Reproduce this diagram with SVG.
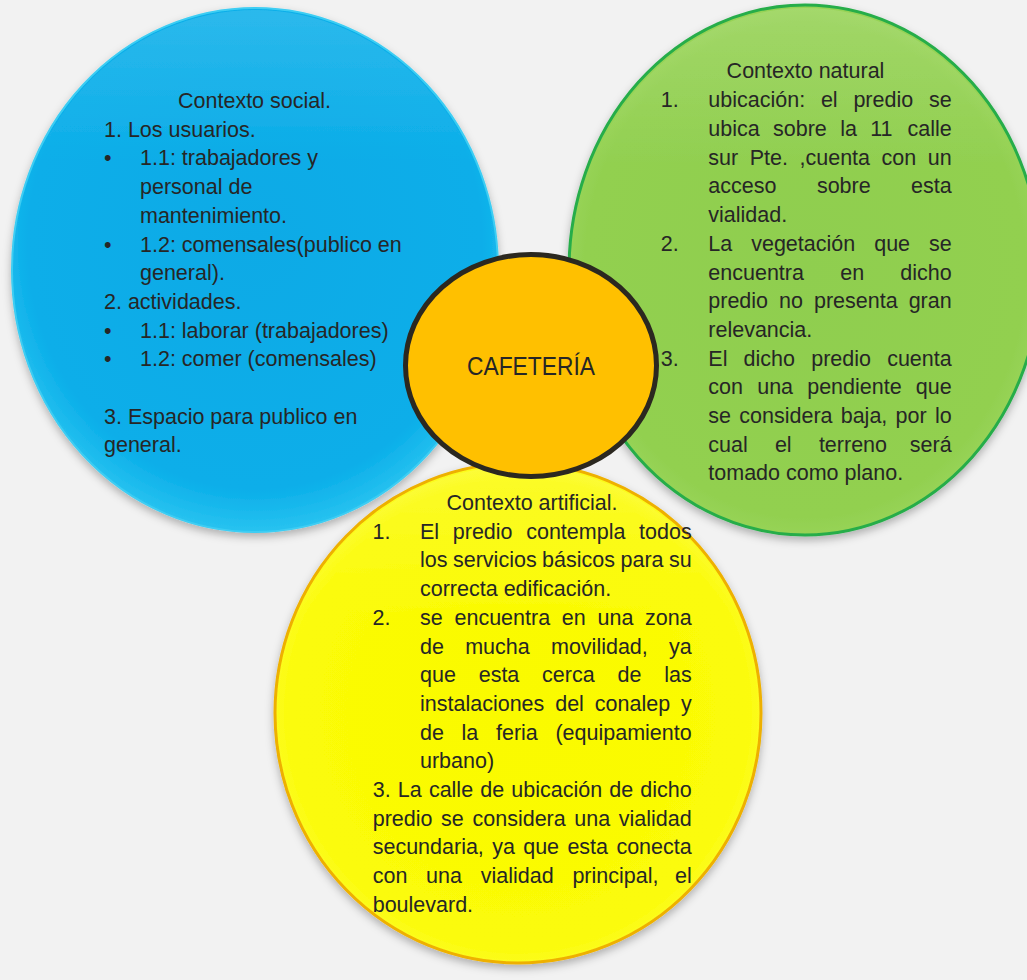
<svg xmlns="http://www.w3.org/2000/svg" width="1027" height="980" viewBox="0 0 1027 980">
<style>
.t{font-family:"Liberation Sans",Arial,sans-serif;font-size:21.5px;fill:#262626}
.c{text-anchor:middle}
.e{text-anchor:end}
.big{font-family:"Liberation Sans",Arial,sans-serif;font-size:25px;fill:#262626;text-anchor:middle}
</style>
<defs>
<filter id="sh" x="-10%" y="-10%" width="120%" height="125%">
<feDropShadow dx="0" dy="4" stdDeviation="4" flood-color="#000" flood-opacity="0.28"/>
</filter>
<radialGradient id="gBlue" cx="50%" cy="45%" r="55%">
<stop offset="0" stop-color="#08aae6"/>
<stop offset="0.85" stop-color="#0aaee9"/>
<stop offset="1" stop-color="#28c3f0"/>
</radialGradient>
<radialGradient id="gGreen" cx="50%" cy="50%" r="55%">
<stop offset="0" stop-color="#8fce4f"/>
<stop offset="0.85" stop-color="#92d050"/>
<stop offset="1" stop-color="#9ed85e"/>
</radialGradient>
<radialGradient id="gYellow" cx="50%" cy="50%" r="55%">
<stop offset="0" stop-color="#fafa00"/>
<stop offset="0.85" stop-color="#fbfb08"/>
<stop offset="1" stop-color="#fdfd40"/>
</radialGradient>
<linearGradient id="hl" x1="0" y1="0" x2="0" y2="1">
<stop offset="0" stop-color="#fff" stop-opacity="0.14"/>
<stop offset="0.3" stop-color="#fff" stop-opacity="0"/>
</linearGradient>
</defs>
<rect width="1027" height="980" fill="#f2f2f2"/>
<g id="connectors"/>
<g id="social" filter="url(#sh)">
<ellipse cx="255" cy="270" rx="243" ry="262" fill="url(#gBlue)" stroke="#3ccdf3" stroke-width="2"/>
<ellipse cx="255" cy="270" rx="241" ry="260" fill="url(#hl)"/>
</g>
<g id="natural" filter="url(#sh)">
<ellipse cx="805" cy="270" rx="236" ry="265" fill="url(#gGreen)" stroke="#26ad4a" stroke-width="3"/>
<ellipse cx="805" cy="270" rx="233" ry="262" fill="url(#hl)"/>
</g>
<g id="artificial" filter="url(#sh)">
<ellipse cx="518" cy="713" rx="243" ry="250" fill="url(#gYellow)" stroke="#eeb000" stroke-width="3"/>
<ellipse cx="518" cy="713" rx="240" ry="247" fill="url(#hl)"/>
</g>
<g id="cafeteria">
<ellipse cx="531" cy="365.5" rx="125.5" ry="111" fill="#ffc000" stroke="#2b2820" stroke-width="5"/>
<text class="big" x="531" y="375" textLength="128" lengthAdjust="spacingAndGlyphs">CAFETERÍA</text>
</g>
<g id="social-text">
<text class="t c" x="254.5" y="108">Contexto social.</text>
<text class="t" x="104" y="136.7">1. Los usuarios.</text>
<text class="t" x="104" y="165.4">•</text><text class="t" x="140" y="165.4">1.1: trabajadores y</text>
<text class="t" x="140" y="194.1">personal de</text>
<text class="t" x="140" y="222.8">mantenimiento.</text>
<text class="t" x="104" y="251.5">•</text><text class="t" x="140" y="251.5">1.2: comensales(publico en</text>
<text class="t" x="140" y="280.2">general).</text>
<text class="t" x="104" y="308.9">2. actividades.</text>
<text class="t" x="104" y="337.6">•</text><text class="t" x="140" y="337.6">1.1: laborar (trabajadores)</text>
<text class="t" x="104" y="366.3">•</text><text class="t" x="140" y="366.3">1.2: comer (comensales)</text>
<text class="t" x="104" y="423.7">3. Espacio para publico en</text>
<text class="t" x="104" y="452.4">general.</text>
</g>
<g id="natural-text">
<text class="t c" x="805.5" y="78.3">Contexto natural</text>
<text class="t" x="660.7" y="107.3">1.</text>
<text class="t" y="107.3"><tspan x="708.3">ubicación:</tspan><tspan x="820.9">el</tspan><tspan x="853.4">predio</tspan><tspan x="951.7" class="e">se</tspan></text>
<text class="t" y="136"><tspan x="708.3">ubica</tspan><tspan x="773">sobre</tspan><tspan x="840.2">la</tspan><tspan x="870.2">11</tspan><tspan x="951.7" class="e">calle</tspan></text>
<text class="t" y="164.7"><tspan x="708.3">sur</tspan><tspan x="749.7">Pte.</tspan><tspan x="799.5">,cuenta</tspan><tspan x="881.6">con</tspan><tspan x="951.7" class="e">un</tspan></text>
<text class="t" y="193.4"><tspan x="708.3">acceso</tspan><tspan x="816.9">sobre</tspan><tspan x="951.7" class="e">esta</tspan></text>
<text class="t" x="708.3" y="222.1">vialidad.</text>
<text class="t" x="660.7" y="250.8">2.</text>
<text class="t" y="250.8"><tspan x="708.3">La</tspan><tspan x="751.2">vegetación</tspan><tspan x="874.2">que</tspan><tspan x="951.7" class="e">se</tspan></text>
<text class="t" y="279.5"><tspan x="708.3">encuentra</tspan><tspan x="840.2">en</tspan><tspan x="951.7" class="e">dicho</tspan></text>
<text class="t" y="308.2"><tspan x="708.3">predio</tspan><tspan x="779.1">no</tspan><tspan x="814">presenta</tspan><tspan x="951.7" class="e">gran</tspan></text>
<text class="t" x="708.3" y="336.9">relevancia.</text>
<text class="t" x="660.7" y="365.6">3.</text>
<text class="t" y="365.6"><tspan x="708.3">El</tspan><tspan x="743.6">dicho</tspan><tspan x="811.2">predio</tspan><tspan x="951.7" class="e">cuenta</tspan></text>
<text class="t" y="394.3"><tspan x="708.3">con</tspan><tspan x="757.2">una</tspan><tspan x="807.2">pendiente</tspan><tspan x="951.7" class="e">que</tspan></text>
<text class="t" y="423"><tspan x="708.3">se</tspan><tspan x="739.3">considera</tspan><tspan x="840.7">baja,</tspan><tspan x="895.6">por</tspan><tspan x="951.7" class="e">lo</tspan></text>
<text class="t" y="451.7"><tspan x="708.3">cual</tspan><tspan x="774.9">el</tspan><tspan x="818.9">terreno</tspan><tspan x="951.7" class="e">será</tspan></text>
<text class="t" x="708.3" y="480.4">tomado como plano.</text>
</g>
<g id="artificial-text">
<text class="t c" x="532" y="510">Contexto artificial.</text>
<text class="t" x="372.5" y="538.7">1.</text>
<text class="t" y="538.7"><tspan x="420">El</tspan><tspan x="452.8">predio</tspan><tspan x="526.2">contempla</tspan><tspan x="691.7" class="e">todos</tspan></text>
<text class="t" y="567.4"><tspan x="420">los</tspan><tspan x="453">servicios</tspan><tspan x="542.1">básicos</tspan><tspan x="620.5">para</tspan><tspan x="691.7" class="e">su</tspan></text>
<text class="t" x="420" y="596.1">correcta edificación.</text>
<text class="t" x="372.5" y="624.8">2.</text>
<text class="t" y="624.8"><tspan x="420">se</tspan><tspan x="454.5">encuentra</tspan><tspan x="561.8">en</tspan><tspan x="597.5">una</tspan><tspan x="691.7" class="e">zona</tspan></text>
<text class="t" y="653.5"><tspan x="420">de</tspan><tspan x="465.2">mucha</tspan><tspan x="551">movilidad,</tspan><tspan x="691.7" class="e">ya</tspan></text>
<text class="t" y="682.2"><tspan x="420">que</tspan><tspan x="478.7">esta</tspan><tspan x="542.1">cerca</tspan><tspan x="617.5">de</tspan><tspan x="691.7" class="e">las</tspan></text>
<text class="t" y="710.9"><tspan x="420">instalaciones</tspan><tspan x="555.2">del</tspan><tspan x="594.8">conalep</tspan><tspan x="691.7" class="e">y</tspan></text>
<text class="t" y="739.6"><tspan x="420">de</tspan><tspan x="461.6">la</tspan><tspan x="496">feria</tspan><tspan x="691.7" class="e">(equipamiento</tspan></text>
<text class="t" x="420" y="768.3">urbano)</text>
<text class="t" y="797"><tspan x="372.7">3.</tspan><tspan x="397.8">La</tspan><tspan x="428.9">calle</tspan><tspan x="480.2">de</tspan><tspan x="511.3">ubicación</tspan><tspan x="609.3">de</tspan><tspan x="691.7" class="e">dicho</tspan></text>
<text class="t" y="825.7"><tspan x="372.7">predio</tspan><tspan x="441.1">se</tspan><tspan x="472.5">considera</tspan><tspan x="574.3">una</tspan><tspan x="691.7" class="e">vialidad</tspan></text>
<text class="t" y="854.4"><tspan x="372.7">secundaria,</tspan><tspan x="492.2">ya</tspan><tspan x="523.2">que</tspan><tspan x="567.4">esta</tspan><tspan x="691.7" class="e">conecta</tspan></text>
<text class="t" y="883.1"><tspan x="372.7">con</tspan><tspan x="426.1">una</tspan><tspan x="480.7">vialidad</tspan><tspan x="572.4">principal,</tspan><tspan x="691.7" class="e">el</tspan></text>
<text class="t" x="372.7" y="911.8">boulevard.</text>
</g>
</svg>
